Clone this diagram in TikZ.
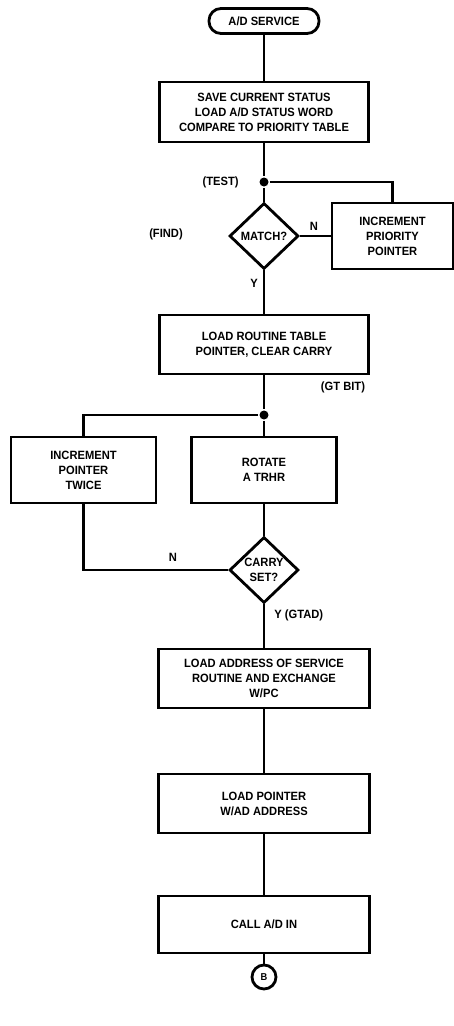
\documentclass[tikz,border=0pt]{standalone}
\usepackage{fontspec}
\setmainfont{Liberation Sans}[FakeStretch=0.93]
\usetikzlibrary{shapes.geometric,positioning}

\begin{document}
\begin{tikzpicture}[x=1pt, y=-1pt, line width=2.8pt,
    font=\bfseries\fontsize{12}{15}\selectfont,
    box/.style={draw, rectangle, align=center, inner sep=2pt},
    decision/.style={draw, diamond, align=center, inner sep=0pt,
        minimum width=69pt, minimum height=66pt},
    joint/.style={circle, fill, inner sep=0pt, minimum size=9pt},
    tag/.style={inner sep=0pt}]

    % 1. Page frame
    \useasboundingbox (0,0) rectangle (454,1026);

    % 2. Terminal and process boxes
    \node[draw, rounded corners=12pt, minimum width=110pt, minimum height=25pt]
        (start) at (264,21) {A/D SERVICE};
    \node[box, minimum width=209pt, minimum height=60pt] (save) at (264,112)
        {SAVE CURRENT STATUS\\LOAD A/D STATUS WORD\\COMPARE TO PRIORITY TABLE};
    \node[joint] (test) at (264,182) {};
    \node[decision] (match) at (264,236) {MATCH?};
    \node[box, minimum width=121pt, minimum height=66pt] (incpri) at (392.5,236)
        {INCREMENT\\PRIORITY\\POINTER};
    \node[box, minimum width=209pt, minimum height=59pt] (routine) at (264,344.5)
        {LOAD ROUTINE TABLE\\POINTER, CLEAR CARRY};
    \node[joint] (gtbit) at (264,415) {};
    \node[box, minimum width=145pt, minimum height=66pt] (twice) at (83.5,470)
        {INCREMENT\\POINTER\\TWICE};
    \node[box, minimum width=145pt, minimum height=66pt] (rotate) at (264,470)
        {ROTATE\\A TRHR};
    \node[decision] (carry) at (264,570) {CARRY\\SET?};
    \node[box, minimum width=211pt, minimum height=59pt] (address) at (264,678.5)
        {LOAD ADDRESS OF SERVICE\\ROUTINE AND EXCHANGE\\W/PC};
    \node[box, minimum width=211pt, minimum height=59pt] (pointer) at (264,803.5)
        {LOAD POINTER\\W/AD ADDRESS};
    \node[box, minimum width=211pt, minimum height=57pt] (call) at (264,924.5)
        {CALL A/D IN};
    \node[draw, circle, inner sep=0pt, minimum size=24pt, font=\bfseries\fontsize{10}{10}\selectfont]
        (conn) at (264,977) {B};

    % 3. Labels beside the flow
    \node[tag, anchor=east] (testlbl) at (240,182) {(TEST)};
    \node[tag] (findlbl) at (166,234) {(FIND)};
    \node[tag] (nmatch) at (314,226) {N};
    \node[tag] (ymatch) at (254,283) {Y};
    \node[tag] (gtlbl) at (343,387) {(GT BIT)};
    \node[tag] (ncarry) at (173,557) {N};
    \node[tag, anchor=west] (gtad) at (273,615) {Y (GTAD)};

    % 4. Connectors
    \draw (start) -- (save);
    \draw (save) -- (test);
    \draw (test) -- (match);
    \draw (test) -| (incpri);
    \draw (match) -- (incpri);
    \draw (match) -- (routine);
    \draw (routine) -- (gtbit);
    \draw (gtbit) -- (rotate);
    \draw (gtbit) -| (twice);
    \draw (rotate) -- (carry);
    \draw (twice) |- (carry);
    \draw (carry) -- (address);
    \draw (address) -- (pointer);
    \draw (pointer) -- (call);
    \draw (call) -- (conn);

\end{tikzpicture}
\end{document}
